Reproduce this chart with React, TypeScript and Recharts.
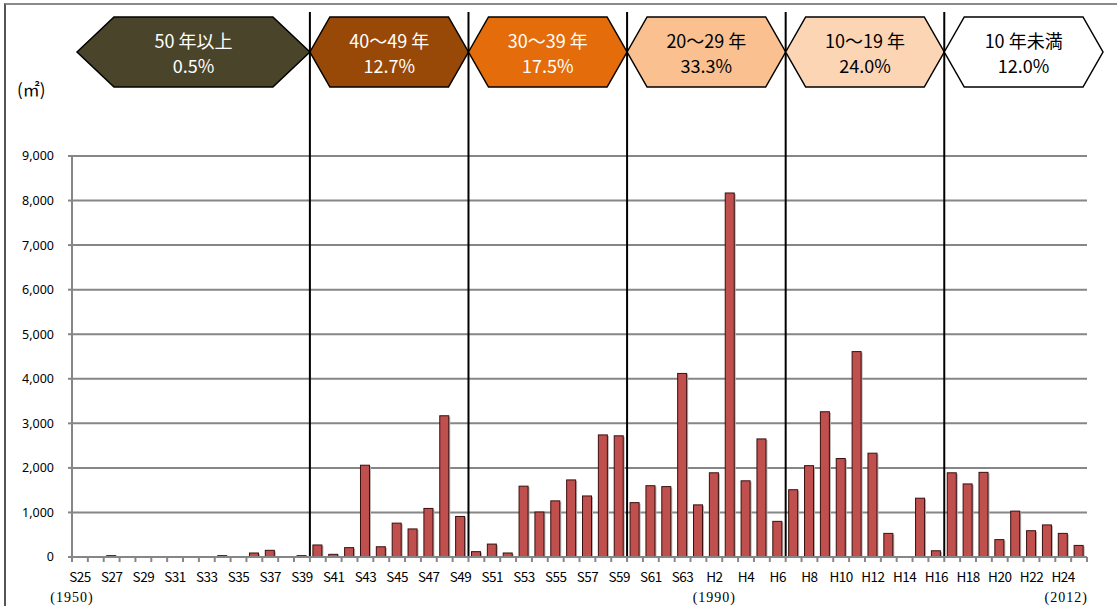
import React from 'react';
import { BarChart, Bar, XAxis, YAxis, CartesianGrid, ReferenceArea } from 'recharts';

// Fiscal-year categories S25 (1950) ... H25 (2013)
const categories: string[] = [
  'S25', 'S26', 'S27', 'S28', 'S29', 'S30', 'S31', 'S32', 'S33', 'S34',
  'S35', 'S36', 'S37', 'S38', 'S39', 'S40', 'S41', 'S42', 'S43', 'S44',
  'S45', 'S46', 'S47', 'S48', 'S49', 'S50', 'S51', 'S52', 'S53', 'S54',
  'S55', 'S56', 'S57', 'S58', 'S59', 'S60', 'S61', 'S62', 'S63',
  'H1', 'H2', 'H3', 'H4', 'H5', 'H6', 'H7', 'H8', 'H9', 'H10',
  'H11', 'H12', 'H13', 'H14', 'H15', 'H16', 'H17', 'H18', 'H19', 'H20',
  'H21', 'H22', 'H23', 'H24', 'H25',
];

// Floor area (m²) built per year
const areaValues: number[] = [
  0, 0, 30, 0, 0, 0, 0, 0, 0, 30,
  0, 90, 150, 0, 30, 270, 60, 210, 2060, 230,
  760, 630, 1090, 3170, 910, 120, 290, 90, 1590, 1010,
  1260, 1730, 1370, 2740, 2720, 1220, 1600, 1580, 4120,
  1170, 1890, 8170, 1710, 2650, 800, 1510, 2050, 3260, 2210,
  4610, 2330, 530, 0, 1320, 140, 1890, 1640, 1900, 390,
  1030, 590, 720, 530, 260,
];

const yTicks: number[] = [0, 1000, 2000, 3000, 4000, 5000, 6000, 7000, 8000, 9000];

// Age groups shown in the banners
const ageGroups: string[] = ['50 年以上', '40～49 年', '30～39 年', '20～29 年', '10～19 年', '10 年未満'];
const ageShares: string[] = ['0.5%', '12.7%', '17.5%', '33.3%', '24.0%', '12.0%'];
const groupStart: string[] = ['S25', 'S40', 'S50', 'S60', 'H7', 'H17'];
const groupEnd: string[] = ['S39', 'S49', 'S59', 'H6', 'H16', 'H25'];

const yearNotes: Record<string, string> = { S25: '(1950)', H2: '(1990)', H24: '(2012)' };

const data = categories.map((c, i) => ({ c, v: areaValues[i] }));

// styles
const bannerStyles = [
  { fill: '#4A452A', text: '#FFFFFF', padL: 5, padR: 0, inset: 37 },
  { fill: '#984807', text: '#FFFFFF', padL: 0, padR: 0, inset: 20 },
  { fill: '#E46C0A', text: '#FFFFFF', padL: 0, padR: 0, inset: 20 },
  { fill: '#FAC090', text: '#000000', padL: 0, padR: 0, inset: 20 },
  { fill: '#FCD5B5', text: '#000000', padL: 0, padR: 0, inset: 20 },
  { fill: '#FFFFFF', text: '#000000', padL: 0, padR: 16, inset: 20 },
];
const yearNoteDx: Record<string, number> = { S25: -8, H2: 0, H24: 3 };

const BANNER_TOP = 17;
const BANNER_BOTTOM = 87;
const GRID = '#868686';
const JP = '"Noto Sans CJK JP", "Noto Sans", sans-serif';

const makeBanner = (i: number) => (props: any) => {
  const { x, y, width, height } = props;
  const st = bannerStyles[i];
  const L = x + st.padL;
  const R = x + width + st.padR;
  const mid = (BANNER_TOP + BANNER_BOTTOM) / 2;
  const pts = [
    [L, mid], [L + st.inset, BANNER_TOP], [R - st.inset, BANNER_TOP],
    [R, mid], [R - st.inset, BANNER_BOTTOM], [L + st.inset, BANNER_BOTTOM],
  ].map((p) => p.join(',')).join(' ');
  const cx = (L + R) / 2;
  return (
    <g>
      {i > 0 && (
        <line x1={x} x2={x} y1={12} y2={y + height} stroke="#000" strokeWidth={2} />
      )}
      <polygon points={pts} fill={st.fill} stroke="#000" strokeWidth={1.5} />
      <text x={cx} y={48} textAnchor="middle" fill={st.text} fontSize={18} fontFamily={JP}>
        {ageGroups[i]}
      </text>
      <text x={cx} y={73} textAnchor="middle" fill={st.text} fontSize={18} fontFamily={JP}>
        {ageShares[i]}
      </text>
    </g>
  );
};

const XTick = (props: any) => {
  const { x, y, payload, width, visibleTicksCount } = props;
  const idx: number = payload?.index ?? props.index ?? 0;
  const half: number = payload?.offset ? payload.offset : width / (visibleTicksCount || categories.length) / 2;
  const isLast = idx === categories.length - 1;
  const value: string = payload?.value;
  const note = yearNotes[value];
  return (
    <g>
      <line x1={x - half} x2={x - half} y1={y} y2={y + 5} stroke={GRID} strokeWidth={2} />
      {isLast && <line x1={x + half} x2={x + half} y1={y} y2={y + 5} stroke={GRID} strokeWidth={2} />}
      {idx % 2 === 0 && (
        <text x={x} y={y + 25} textAnchor="middle" fontSize={13.5} fill="#000" fontFamily={JP} letterSpacing={-0.5}>
          {value}
        </text>
      )}
      {note && (
        <text x={x + (yearNoteDx[value] || 0)} y={y + 45} textAnchor="middle" fontSize={14} fill="#000"
          fontFamily='"Liberation Serif", "DejaVu Serif", serif' letterSpacing={1}>
          {note}
        </text>
      )}
    </g>
  );
};

const BarShape = (p: any) => {
  if (!p.height || p.height <= 0) return <g />;
  return (
    <g>
      <rect x={p.x + 1.5} y={p.y + 1} width={p.width} height={p.height - 1} fill="#B4B4B4" />
      <rect x={p.x} y={p.y} width={p.width} height={p.height} fill="#C0504D" stroke="#3A0F0F" strokeWidth={1} />
    </g>
  );
};

export default function App() {
  return (
    <div style={{ position: 'absolute', left: 0, top: 0, width: 1117, height: 606, background: '#fff', overflow: 'hidden' }}>
      <div
        style={{
          position: 'absolute', left: 4, top: 3, width: 1130, height: 620,
          borderTop: '2px solid #8a8a8a', borderLeft: '2px solid #555',
          pointerEvents: 'none',
        }}
      />
      <div style={{ position: 'absolute', left: 17, top: 76, fontSize: 17, fontFamily: JP, color: '#000' }}>
        (㎡)
      </div>
      <BarChart
        width={1117}
        height={606}
        data={data}
        margin={{ top: 156, right: 30, bottom: 0, left: 12 }}
        barCategoryGap={0}
      >
        <CartesianGrid vertical={false} stroke={GRID} strokeWidth={2} />
        <XAxis
          dataKey="c"
          interval={0}
          tickLine={false}
          tickSize={0}
          tickMargin={0}
          height={49}
          axisLine={{ stroke: GRID, strokeWidth: 2 }}
          tick={<XTick />}
        />
        <YAxis
          width={60}
          domain={[0, 9000]}
          ticks={yTicks}
          interval={0}
          tickFormatter={(v: number) => v.toLocaleString('en-US')}
          tickSize={4}
          tickMargin={14}
          tickLine={{ stroke: GRID, strokeWidth: 2 }}
          axisLine={{ stroke: GRID, strokeWidth: 2 }}
          tick={{ fontSize: 12.5, fill: '#000', fontFamily: '"Noto Sans", sans-serif' }}
        />
        {groupStart.map((s, i) => (
          <ReferenceArea
            key={s}
            x1={s}
            x2={groupEnd[i]}
            ifOverflow="visible"
            shape={makeBanner(i)}
          />
        ))}
        <Bar dataKey="v" barSize={9} isAnimationActive={false} shape={BarShape} />
      </BarChart>
    </div>
  );
}
